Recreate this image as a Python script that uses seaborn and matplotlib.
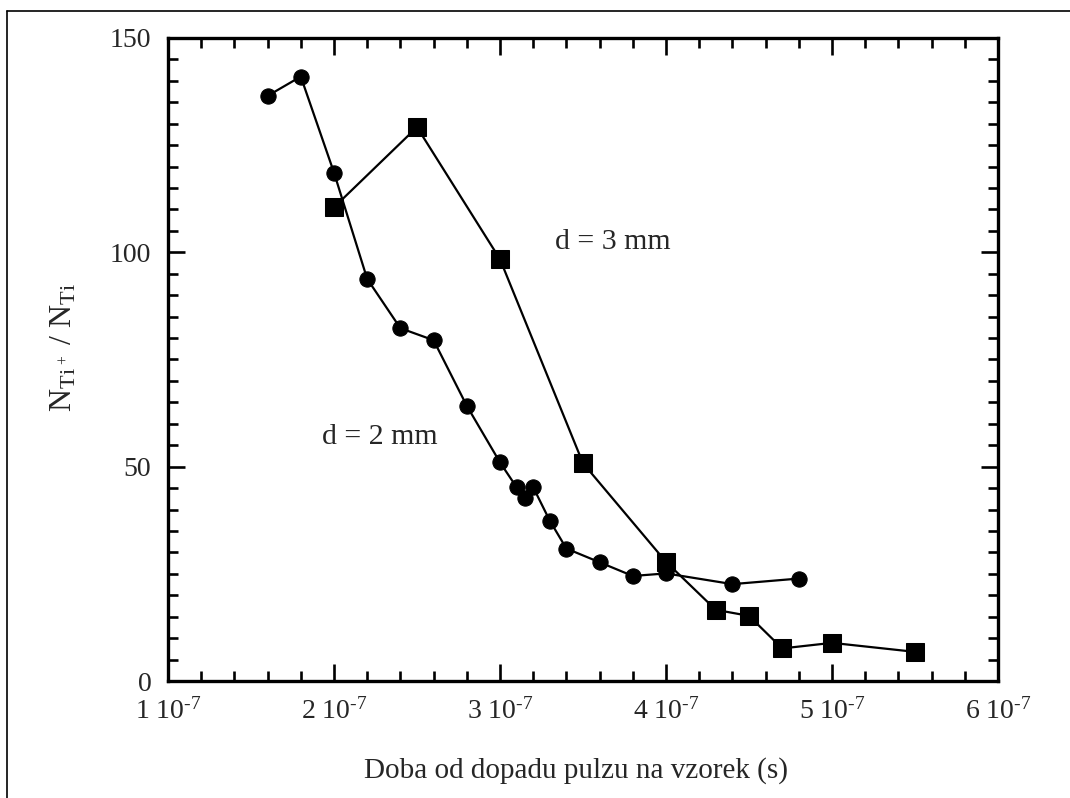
import matplotlib
matplotlib.use("Agg")
import matplotlib.pyplot as plt
from matplotlib.ticker import MultipleLocator, FixedLocator, FixedFormatter
from matplotlib.lines import Line2D
import numpy as np
import pandas as pd
import seaborn as sns

# d = 2 mm series (circles)
t_2mm = [1.6e-7, 1.8e-7, 2.0e-7, 2.2e-7, 2.4e-7, 2.6e-7, 2.8e-7, 3.0e-7,
         3.1e-7, 3.15e-7, 3.2e-7, 3.3e-7, 3.4e-7, 3.6e-7, 3.8e-7, 4.0e-7,
         4.4e-7, 4.8e-7]
ratio_2mm = [136.5, 141.0, 118.6, 93.8, 82.3, 79.5, 64.2, 51.0,
             45.2, 42.8, 45.2, 37.4, 30.9, 27.7, 24.5, 25.1,
             22.6, 23.9]

# d = 3 mm series (squares)
t_3mm = [2.0e-7, 2.5e-7, 3.0e-7, 3.5e-7, 4.0e-7, 4.3e-7, 4.5e-7, 4.7e-7,
         5.0e-7, 5.5e-7]
ratio_3mm = [110.5, 129.2, 98.4, 50.8, 27.8, 16.6, 15.2, 7.6, 8.9, 6.8]

x_ticks = [1e-7, 2e-7, 3e-7, 4e-7, 5e-7, 6e-7]
x_tick_labels = [r"$\mathrm{%d\ 10^{\text{-}7}}$" % k for k in (1, 2, 3, 4, 5, 6)]
y_ticks = [0, 50, 100, 150]

sns.set_theme(style="white")
plt.rcParams["font.family"] = ["Liberation Serif", "DejaVu Serif"]
plt.rcParams["mathtext.fontset"] = "custom"
plt.rcParams["mathtext.rm"] = "Liberation Serif"
plt.rcParams["mathtext.it"] = "Liberation Serif:italic"

df2 = pd.DataFrame({"t": t_2mm, "r": ratio_2mm})
df3 = pd.DataFrame({"t": t_3mm, "r": ratio_3mm})

fig = plt.figure(figsize=(10.70, 7.98), dpi=100)
ax = fig.add_axes([0.157, 0.1466, 0.7757, 0.8058])

sns.lineplot(data=df2, x="t", y="r", ax=ax, sort=False, estimator=None,
             color="black", linewidth=1.6, marker="o", markersize=11,
             markeredgecolor="black", markerfacecolor="black")
sns.lineplot(data=df3, x="t", y="r", ax=ax, sort=False, estimator=None,
             color="black", linewidth=1.6, marker="s", markersize=13,
             markeredgecolor="black", markerfacecolor="black")

ax.set_xlim(1e-7, 6e-7)
ax.set_ylim(0, 150)
ax.xaxis.set_major_locator(FixedLocator(x_ticks))
ax.xaxis.set_major_formatter(FixedFormatter(x_tick_labels))
ax.xaxis.set_minor_locator(MultipleLocator(0.2e-7))
ax.yaxis.set_major_locator(FixedLocator(y_ticks))
ax.yaxis.set_minor_locator(MultipleLocator(5))

for side in ["left", "right", "top", "bottom"]:
    ax.spines[side].set_visible(True)
    ax.spines[side].set_color("black")
    ax.spines[side].set_linewidth(2.4)

ax.tick_params(which="both", direction="in", top=True, right=True,
               bottom=True, left=True, color="black", width=1.9)
ax.tick_params(which="major", length=12, labelsize=20, pad=12)
ax.tick_params(which="minor", length=7)

ax.set_xlabel("")
ax.set_ylabel("")

fig.text(0.538, 0.035, "Doba od dopadu pulzu na vzorek (s)", ha="center",
         va="center", fontsize=21)
fig.text(0.060, 0.565, r"$\mathrm{N_{Ti^{\,+}}\ /\ N_{Ti}}$", ha="center", va="center",
         rotation=90, fontsize=23)

ax.text(3.33e-7, 102.4, "d = 3 mm", ha="left", va="center", fontsize=21.5)
ax.text(1.93e-7, 56.9, "d = 2 mm", ha="left", va="center", fontsize=21.5)

# outer frame along the top and left edges
fig.add_artist(Line2D([0.0065, 1.0], [0.986, 0.986], transform=fig.transFigure,
                      color="black", linewidth=1.2))
fig.add_artist(Line2D([0.0065, 0.0065], [0.0, 0.986], transform=fig.transFigure,
                      color="black", linewidth=1.2))

fig.savefig("out.png", dpi=100)
